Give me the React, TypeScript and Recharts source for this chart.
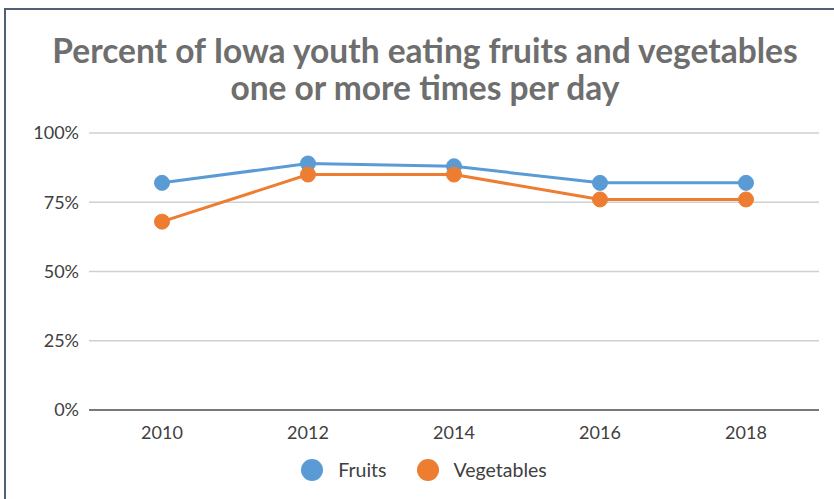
import React from "react";
import { LineChart, Line, XAxis, YAxis, CartesianGrid } from "recharts";

const years = ["2010", "2012", "2014", "2016", "2018"];
const fruits = [82, 89, 88, 82, 82];
const vegetables = [68, 85, 85, 76, 76];
const yTicks = [0, 25, 50, 75, 100];
const seriesNames = ["Fruits", "Vegetables"];
const seriesColors = ["#5b9bd5", "#ed7d31"];

const data = years.map((y, i) => ({ year: y, Fruits: fruits[i], Vegetables: vegetables[i] }));

const FONT = "Lato, 'Open Sans', 'Noto Sans', sans-serif";

const LegendContent = () => (
  <div style={{ display: "flex", justifyContent: "center", alignItems: "center", fontFamily: FONT, fontSize: 19.5, color: "#404040" }}>
    {seriesNames.map((n, i) => (
      <div key={n} style={{ display: "flex", alignItems: "center", marginLeft: i === 0 ? 0 : 30 }}>
        <svg width={22} height={22} style={{ marginRight: 15 }}>
          <circle cx={11} cy={11} r={11} fill={seriesColors[i]} />
        </svg>
        <span>{n}</span>
      </div>
    ))}
  </div>
);

export default function App() {
  return (
    <div style={{ position: "absolute", left: 0, top: 0, width: 834, height: 499, overflow: "hidden", background: "#fff" }}>
      <div style={{ position: "absolute", left: 4, top: 8, width: 900, height: 600, borderLeft: "2px solid #4f5f76", borderTop: "2px solid #4f5f76" }} />
      <div style={{ position: "absolute", left: 0, top: 32, width: 850, textAlign: "center", fontFamily: FONT, fontWeight: 700, fontSize: 33.5, lineHeight: "37px", color: "#6e6e6e" }}>
        Percent of Iowa youth eating fruits and vegetables
        <br />
        one or more times per day
      </div>
      <div style={{ position: "absolute", left: 0, top: 0 }}>
        <LineChart width={834} height={499} data={data} margin={{ top: 133, right: 15, left: 0, bottom: 59 }}>
          <CartesianGrid vertical={false} stroke="#d0d0d0" strokeWidth={1.5} />
          <XAxis
            dataKey="year"
            height={30}
            padding={{ left: 73, right: 73 }}
            tickLine={false}
            tickSize={0}
            tickMargin={16}
            axisLine={{ stroke: "#595959", strokeWidth: 1.5 }}
            tick={{ fill: "#404040", fontSize: 18, fontFamily: FONT }}
          />
          <YAxis
            width={89}
            domain={[0, 100]}
            ticks={yTicks}
            tickFormatter={(v) => `${v}%`}
            axisLine={false}
            tickLine={false}
            tickSize={0}
            tickMargin={10}
            tick={{ fill: "#404040", fontSize: 18, fontFamily: FONT }}
          />
          <Line dataKey="Fruits" stroke={seriesColors[0]} strokeWidth={3} dot={{ r: 7.5, fill: seriesColors[0], stroke: seriesColors[0], strokeWidth: 1 }} isAnimationActive={false} />
          <Line dataKey="Vegetables" stroke={seriesColors[1]} strokeWidth={3} dot={{ r: 7.5, fill: seriesColors[1], stroke: seriesColors[1], strokeWidth: 1 }} isAnimationActive={false} />
        </LineChart>
      </div>
      <div style={{ position: "absolute", left: 0, top: 458, width: 848 }}>
        <LegendContent />
      </div>
    </div>
  );
}
